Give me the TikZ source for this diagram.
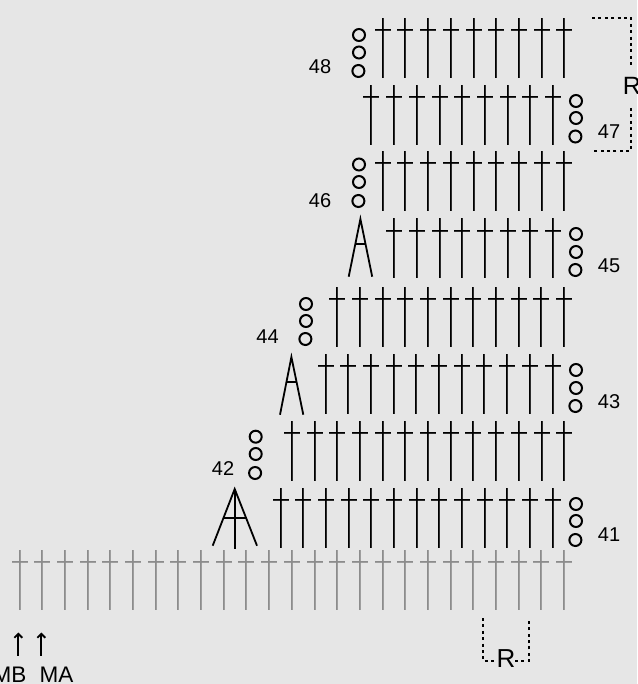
\documentclass[tikz,border=0pt]{standalone}
\usepackage{fontspec}
\setmainfont{Liberation Sans}
\usetikzlibrary{arrows.meta}
\definecolor{bgc}{HTML}{E6E6E6}
\definecolor{basec}{HTML}{8C8C8C}
\newcommand{\stitchrow}[5][black]{% colour, first x, count, top y, bar y
  \pgfmathsetmacro{\rowtop}{round(#4)}
  \pgfmathsetmacro{\rowbot}{round(#4+60)}
  \pgfmathsetmacro{\bary}{round(#5-0.75)}
  \foreach \k in {1,...,#3}{
    \pgfmathsetmacro{\sx}{round(#2+(\k-1)*22.69-0.75)}
    \fill[#1] (\sx,\rowtop) rectangle (\sx+1,\rowbot);
    \fill[#1,opacity=.8] (\sx+1,\rowtop) rectangle (\sx+2,\rowbot);
    \fill[#1] (\sx-7,\bary) rectangle (\sx+9,\bary+1);
    \fill[#1,opacity=.8] (\sx-7,\bary+1) rectangle (\sx+9,\bary+2);
  }
}
\newcommand{\chainthree}[4]{%
  \node[chain] at (#1,#2) {};
  \node[chain] at (#1,#3) {};
  \node[chain] at (#1-0.6,#4) {};
}
\tikzset{
  chain/.style={circle,draw=black,line width=2pt,minimum size=12pt,inner sep=0pt},
  rownum/.style={font=\fontsize{20}{22}\selectfont,inner sep=0pt,anchor=base},
  bigletter/.style={font=\fontsize{22.5}{24}\selectfont,inner sep=0pt,anchor=base},
  repeatline/.style={line width=1.3pt,dash pattern=on 3pt off 3.4pt},
  inc/.style={line width=1.8pt,line join=miter},
  yarnarrow/.style={line width=2pt,-{Straight Barb[length=4pt,width=8pt,line width=1.8pt]}}
}
\begin{document}
\begin{tikzpicture}[x=1pt,y=-1pt]
\useasboundingbox (0,0) rectangle (637,684);
\clip (0,0) rectangle (637,684);
\fill[bgc] (0,0) rectangle (637,684);
% foundation row
\stitchrow[basec]{19.3}{25}{549.5}{561.7}
% rows
\stitchrow{280.3}{13}{487.6}{500}
\stitchrow{291.7}{13}{420.5}{432.7}
\stitchrow{325.4}{11}{354}{366}
\stitchrow{337}{11}{287}{299}
\stitchrow{394}{8}{218}{230.5}
\stitchrow{382.5}{9}{151}{163}
\stitchrow{371.2}{9}{85}{97}
\stitchrow{382.5}{9}{18}{30}
% increases
\coordinate (a41) at (234.7,489);
\draw[inc] (212.7,545.7) -- (a41) -- (257,545.7);
\draw[inc] (a41) -- (234.7,549.3);
\draw[inc] (223.4,518.3) -- (246,518.3);
\coordinate (a43) at (291.4,357);
\draw[inc] (280,414.7) -- (a43) -- (303.3,414.7);
\draw[inc] (286.2,381.7) -- (296.6,381.7);
\coordinate (a45) at (360.4,219);
\draw[inc] (348.7,276.7) -- (a45) -- (372.2,276.7);
\draw[inc] (355.3,244) -- (365.5,244);
% chains
\chainthree{359}{35}{52.5}{71}
\chainthree{576}{101}{118}{136.5}
\chainthree{359}{164.5}{182}{201}
\chainthree{576}{234}{252}{270}
\chainthree{306}{304}{321}{339}
\chainthree{576}{370}{388}{406}
\chainthree{255.7}{436.7}{454}{473}
\chainthree{576}{504}{521}{540}
% row numbers
\node[rownum] (n48) at (320,73.5) {48};
\node[rownum] (n47) at (609,139) {47};
\node[rownum] (n46) at (320,207.5) {46};
\node[rownum] (n45) at (609,272.5) {45};
\node[rownum] (n44) at (267.5,343) {44};
\node[rownum] (n43) at (609,408) {43};
\node[rownum] (n42) at (223,475.5) {42};
\node[rownum] (n41) at (609,541.5) {41};
% repeat brackets
\node[bigletter,font=\fontsize{25}{27}\selectfont] (rtop) at (632,94.5) {R};
\coordinate (rta) at (592,18);
\coordinate (rtb) at (631,18);
\coordinate (rtc) at (631,66);
\coordinate (rtd) at (631,108);
\coordinate (rte) at (631,151);
\coordinate (rtf) at (592,151);
\draw[repeatline] (rta) -- (rtb) -- (rtc);
\draw[repeatline] (rtd) -- (rte) -- (rtf);
\node[bigletter,font=\fontsize{26}{28}\selectfont] (rbot) at (506,667.7) {R};
\coordinate (rba) at (483,618);
\coordinate (rbb) at (483,661);
\coordinate (rbc) at (497,661);
\coordinate (rbd) at (515,661);
\coordinate (rbe) at (529,661);
\coordinate (rbf) at (529,618);
\draw[repeatline] (rba) -- (rbb) -- (rbc);
\draw[repeatline] (rbd) -- (rbe) -- (rbf);
% yarn labels
\node[bigletter] (mb) at (9.5,682.7) {MB};
\node[bigletter] (ma) at (56.5,682.7) {MA};
\coordinate (mbt) at (18.3,632.5);
\coordinate (mbb) at (18.3,655.5);
\coordinate (mat) at (41.3,632.5);
\coordinate (mab) at (41.3,655.5);
\draw[yarnarrow] (mbb) -- (mbt);
\draw[yarnarrow] (mab) -- (mat);
\end{tikzpicture}
\end{document}
